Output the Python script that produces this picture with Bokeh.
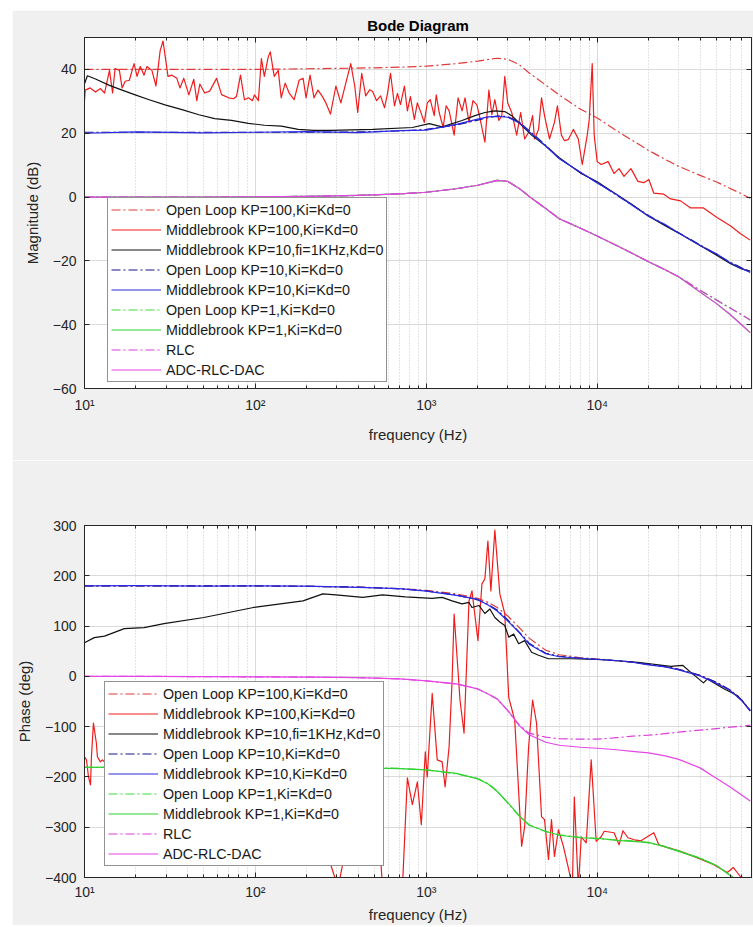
from bokeh.plotting import figure
from bokeh.layouts import column
from bokeh.models import (FixedTicker, Legend, LegendItem, Range1d, CustomJSTickFormatter,
                          LogAxis, LinearAxis)
from bokeh.embed import file_html
from bokeh.resources import INLINE

# ---------------- axis ticks ----------------
x_tick_values = [10, 100, 1000, 10000]
x_tick_labels = ["10\u00b9", "10\u00b2", "10\u00b3", "10\u2074"]
x_minor_ticks = [20, 30, 40, 50, 60, 70, 80, 90,
                 200, 300, 400, 500, 600, 700, 800, 900,
                 2000, 3000, 4000, 5000, 6000, 7000, 8000, 9000,
                 20000, 30000, 40000, 50000, 60000, 70000]
mag_ticks = [-60, -40, -20, 0, 20, 40]
phase_ticks = [-400, -300, -200, -100, 0, 100, 200, 300]

legend_labels = ["Open Loop KP=100,Ki=Kd=0", "Middlebrook KP=100,Ki=Kd=0",
                 "Middlebrook KP=10,fi=1KHz,Kd=0", "Open Loop KP=10,Ki=Kd=0",
                 "Middlebrook KP=10,Ki=Kd=0", "Open Loop KP=1,Ki=Kd=0",
                 "Middlebrook KP=1,Ki=Kd=0", "RLC", "ADC-RLC-DAC"]

# ---------------- common frequency grid (Hz) for smooth curves ----------------
f_grid = [10, 20, 50, 100, 200, 400, 700, 1000, 1500, 2000,
          2300, 2600, 3000, 3500, 4000, 5000, 6000, 8000, 10000, 13000,
          16000, 20000, 25000, 30000, 40000, 50000, 60000, 70000, 78600]

# ---------------- magnitude (dB) ----------------
ol100_mag = [40.0, 40.0, 40.0, 40.0, 40.2, 40.4, 40.7, 41.0, 41.8, 42.6,
             43.1, 43.5, 43.2, 41.5, 38.9, 35.1, 32.0, 27.5, 24.8, 20.8,
             17.8, 14.6, 11.8, 9.6, 6.8, 4.7, 2.7, 1.0, -0.4]
ol10_mag = [20.3, 20.3, 20.3, 20.3, 20.3, 20.4, 20.7, 21.2, 22.6, 24.1,
            24.9, 25.4, 25.2, 23.5, 20.8, 16.2, 12.2, 7.6, 4.6, 0.6,
            -2.5, -5.8, -8.8, -11.2, -15.0, -18.0, -20.4, -22.2, -23.4]
mb10_mag = [20.0, 20.4, 20.1, 20.3, 20.5, 20.2, 20.8, 21.0, 22.8, 24.4,
            25.1, 25.3, 25.0, 23.2, 20.5, 16.0, 12.0, 7.8, 4.4, 0.8,
            -2.6, -6.0, -8.6, -11.3, -15.2, -17.8, -20.6, -22.4, -23.6]
ol1_mag = [0.0, 0.0, 0.0, 0.1, 0.2, 0.5, 1.0, 1.5, 2.6, 3.7,
           4.5, 5.2, 4.9, 2.7, 0.2, -3.6, -6.8, -9.8, -12.2, -15.2,
           -17.6, -20.3, -22.8, -25.0, -29.2, -32.3, -34.8, -36.9, -38.5]
mb1_mag = [0.0, 0.0, 0.0, 0.1, 0.2, 0.5, 1.0, 1.5, 2.6, 3.7,
           4.5, 5.2, 4.9, 2.7, 0.2, -3.6, -6.8, -9.8, -12.2, -15.2,
           -17.6, -20.3, -22.8, -25.0, -29.8, -33.4, -36.8, -40.0, -42.5]
rlc_mag = [0.0, 0.0, 0.0, 0.1, 0.2, 0.5, 1.0, 1.5, 2.6, 3.7,
           4.5, 5.2, 4.9, 2.7, 0.2, -3.6, -6.8, -9.8, -12.2, -15.2,
           -17.6, -20.3, -22.8, -25.0, -29.2, -32.3, -34.8, -36.9, -38.5]
adc_mag = [0.0, 0.0, 0.0, 0.1, 0.2, 0.5, 1.0, 1.5, 2.6, 3.7,
           4.5, 5.2, 4.9, 2.7, 0.2, -3.6, -6.8, -9.8, -12.2, -15.2,
           -17.6, -20.3, -22.8, -25.0, -29.8, -33.4, -36.8, -40.0, -42.5]

mb10fi_mag_f = [10, 10.4, 11.6, 14.0, 16.6, 19.8, 23.9, 29.6, 37.2, 46.7,
                57.8, 72.5, 91.0, 113, 142, 178, 220, 277, 486, 829,
                1041, 1238, 1619, 1927, 2203, 2518, 2879, 3162, 3614, 4131,
                5000, 6000, 8000, 10000, 13000, 16000, 20000, 25000, 30000, 40000,
                50000, 60000, 70000, 78600]
mb10fi_mag = [35.5, 38.0, 37.0, 35.0, 33.5, 32.0, 30.5, 28.9, 27.4, 25.8,
              24.6, 24.0, 23.1, 22.5, 22.2, 21.2, 20.9, 20.9, 21.2, 21.8,
              23.0, 22.0, 24.0, 25.5, 26.5, 27.0, 26.8, 25.5, 22.5, 19.4,
              16.0, 12.3, 7.5, 4.8, 0.8, -2.3, -6.0, -9.0, -11.3, -15.2,
              -18.2, -20.8, -22.5, -23.2]

mb100_mag_f = [10, 10.1, 10.8, 11.6, 12.4, 13.1, 14.0, 14.6, 15.1, 16.0,
               16.6, 17.3, 18.3, 19.5, 20.3, 21.2, 22.3, 23.2, 24.8, 26.2,
               27.7, 28.8, 29.6, 30.8, 32.5, 34.7, 36.2, 38.1, 40.8, 43.6,
               45.4, 47.3, 50.5, 54.0, 59.3, 63.4, 69.7, 74.5, 77.5, 81.8,
               86.3, 91.1, 96.1, 98.7, 104.1, 108.4, 112.8, 119.0, 122.2, 128.9,
               136.1, 141.6, 149.4, 157.6, 168.6, 180.3, 190.2, 198.0, 208.9, 220.3,
               232.4, 245.2, 258.7, 275.0, 295.8, 316.2, 338.1, 361.5, 381.4, 397.0,
               419.0, 442.0, 466.3, 485.3, 512.0, 540.2, 569.9, 593.3, 617.6, 651.6,
               678.3, 706.0, 744.8, 775.3, 807.2, 851.7, 886.6, 922.9, 973.6, 1013.5,
               1055.1, 1113.1, 1143.2, 1190.1, 1255.5, 1307.1, 1360.5, 1455.2, 1535.1, 1619.6,
               1685.8, 1778.3, 1876.1, 1979.0, 2060.4, 2203.4, 2324.5, 2419.5, 2518.6, 2657.0,
               2766.1, 2879.4, 2997.2, 3162.3, 3381.3, 3566.8, 3763.2, 3969.8, 4189.0, 4302.6,
               4539.4, 4725.2, 4918.9, 5259.3, 5623.4, 5853.7, 6175.9, 6428.6, 6782.6, 7253.0,
               7755.7, 8181.4, 8748.3, 8985.0, 9353.3, 9606.9, 10000, 10551, 11588, 12560,
               13428, 14356, 15766, 17315, 18761, 20060, 21450, 24521, 26930, 30787,
               35200, 41892, 50514, 60138, 68752, 78600]
mb100_mag = [30.2, 33.5, 34.2, 32.9, 34.0, 32.6, 39.7, 32.6, 40.3, 39.7,
             34.2, 36.3, 36.6, 41.8, 37.8, 40.9, 38.2, 40.9, 39.7, 34.8,
             45.8, 48.9, 44.5, 37.8, 38.2, 37.2, 34.2, 37.2, 32.0, 36.9,
             30.2, 35.4, 32.6, 33.2, 37.2, 32.1, 31.1, 30.8, 31.5, 38.2,
             30.5, 31.1, 30.2, 32.0, 30.2, 43.4, 37.8, 44.0, 45.5, 37.8,
             39.7, 31.1, 35.7, 32.6, 30.5, 36.6, 37.2, 31.1, 38.2, 31.1,
             33.5, 31.7, 29.5, 26.0, 34.8, 29.5, 35.7, 41.8, 34.8, 26.5,
             38.8, 31.7, 33.6, 33.1, 30.2, 31.7, 28.0, 32.5, 38.8, 28.6,
             32.5, 29.0, 34.8, 27.0, 31.5, 24.3, 29.5, 27.0, 23.4, 29.5,
             30.5, 25.5, 32.0, 26.5, 21.8, 28.6, 27.0, 19.4, 31.1, 27.0,
             31.1, 23.4, 30.2, 28.9, 24.7, 17.2, 33.5, 25.8, 30.5, 24.0,
             25.5, 37.8, 29.5, 26.5, 19.4, 26.5, 18.2, 20.3, 25.5, 18.2,
             21.2, 31.1, 25.5, 18.2, 23.4, 28.6, 19.4, 17.7, 18.0, 21.2,
             18.2, 10.2, 19.4, 24.3, 41.8, 19.4, 11.1, 10.2, 11.1, 7.4,
             8.9, 6.5, 8.9, 4.9, 4.5, 5.5, 1.2, 0.9, -0.6, -1.2,
             -3.4, -3.4, -6.5, -9.0, -11.4, -13.5]

# ---------------- phase (deg) ----------------
ol100_ph = [180, 180, 180, 180, 179, 177.5, 174.5, 171, 164, 155,
            147, 137, 120, 97, 76, 52, 43, 37, 34.5, 31,
            28.5, 24, 19.5, 14, 2, -12, -28, -47, -68]
ol10_ph = [180, 180, 180, 180, 179, 177.5, 174, 170, 162, 152,
           143, 132, 112, 88, 66, 46, 40, 36, 34, 31,
           28.5, 24, 19.5, 14, 2, -12, -27, -47, -68]
mb10_ph = [180, 180.5, 179.5, 180, 179.5, 177, 174.5, 169.5, 161, 153,
           142, 130, 110, 87, 64, 45, 39, 36, 33.5, 31.5,
           28, 23, 19, 13, 1, -14, -28, -48, -69]
ol1_ph = [-181, -181, -181, -181, -181, -181.5, -183, -186, -194, -203,
          -213, -228, -252, -278, -295, -309, -315, -320, -323, -325,
          -327, -331, -338, -347, -361, -377, -395, -412, -425]
mb1_ph = [-181, -180.5, -181.5, -181, -180.5, -182, -183.5, -186, -193, -204,
          -214, -229, -251, -277, -296, -308, -316, -321, -322, -326,
          -328, -330, -339, -348, -362, -376, -396, -413, -424]
rlc_ph = [0, 0, -0.5, -1, -1.5, -2.5, -5, -9, -15, -25,
          -35, -45, -68, -97, -113, -121, -124, -125, -125, -122,
          -119, -117, -114, -111, -107, -104, -101, -99, -97]
adc_ph = [0, 0, -0.5, -1, -1.5, -2.5, -5, -9, -15, -25,
          -35, -45, -68, -98, -116, -131, -137, -141, -143, -146,
          -149, -152, -158, -165, -182, -203, -220, -236, -248]

mb10fi_ph_f = [10, 11.4, 13.1, 17.1, 22.3, 29.2, 49.9, 97.4, 190, 248,
               296, 425, 555, 755, 1083, 1238, 1416, 1620, 1778, 1851,
               2033, 2203, 2356, 2519, 2693, 2879, 3038, 3249, 3473, 3763,
               4131, 4539, 5190, 7060, 10982, 17315, 26930, 31623, 35200, 41892,
               44180, 54750, 66050, 72000, 78600]
mb10fi_ph = [67, 77, 80, 95, 97, 105, 117, 137, 150, 164,
             162, 157, 162, 158, 155, 157, 150, 144, 147, 137,
             141, 125, 134, 117, 108, 101, 78, 84, 65, 71,
             48, 42, 35, 35, 33, 28, 20, 22, 8.5, -13,
             -5, -24, -38, -52, -68]

mb100_ph_f = [10, 10.27, 10.55, 10.84, 10.98, 11.28, 11.74, 11.9, 12.39, 12.73,
              13.25, 15, 20, 30, 50, 80, 120, 180, 250, 305,
              330, 400, 480, 540, 560, 650, 725, 775, 829, 887,
              935, 987, 1013, 1083, 1159, 1238, 1289, 1360, 1416, 1455,
              1576, 1663, 1778, 1851, 2006, 2117, 2203, 2294, 2388, 2519,
              2693, 2879, 3038, 3293, 3614, 3763, 3970, 4189, 4419, 4725,
              4919, 5190, 5402, 5623, 5933, 6344, 6875, 7157, 7350, 7756,
              8072, 8630, 9228, 9867, 10551, 11000, 12560, 13428, 14160, 15140,
              16500, 18030, 21450, 22940, 25000, 30787, 38000, 47860, 57750, 62600,
              68752, 78600]
mb100_ph = [-160, -166, -200, -216, -160, -93, -133, -160, -170, -166,
            -172, -175, -178, -176, -182, -195, -215, -250, -330, -420,
            -360, -330, -360, -360, -440, -440, -420, -202, -255, -210,
            -295, -150, -200, -34, -166, -170, -220, -140, -8, 124,
            -48, -113, 150, 170, 71, 184, 194, 269, 170, 291,
            164, 125, -42, -87, -338, -299, -140, -47, -93, -279,
            -285, -364, -285, -358, -305, -338, -390, -420, -240, -420,
            -319, -331, -166, -328, -319, -308, -311, -335, -307, -321,
            -325, -327, -311, -335, -339, -348, -360, -374, -390, -380,
            -398, -405]

# ---------------- styles ----------------
FONT = "Liberation Sans"
AX = "#262626"
DASHDOT = "9 3 2 3"
series_colors = ["#e23a3a", "#f01c1c", "#111111", "#14148c", "#2a2ae6",
                 "#3ddc3d", "#2fd02f", "#dc3cdc", "#e645e6"]
series_dashes = [DASHDOT, "solid", "solid", DASHDOT, "solid",
                 DASHDOT, "solid", DASHDOT, "solid"]

mag_series = [(f_grid, ol100_mag), (mb100_mag_f, mb100_mag), (mb10fi_mag_f, mb10fi_mag),
              (f_grid, ol10_mag), (f_grid, mb10_mag), (f_grid, ol1_mag), (f_grid, mb1_mag),
              (f_grid, rlc_mag), (f_grid, adc_mag)]
ph_series = [(f_grid, ol100_ph), (mb100_ph_f, mb100_ph), (mb10fi_ph_f, mb10fi_ph),
             (f_grid, ol10_ph), (f_grid, mb10_ph), (f_grid, ol1_ph), (f_grid, mb1_ph),
             (f_grid, rlc_ph), (f_grid, adc_ph)]
for xs, ys in mag_series + ph_series:
    assert len(xs) == len(ys)

EMPTY = "return '';"


def tick_only_axis(ax):
    ax.axis_line_color = AX
    ax.major_tick_line_color = AX
    ax.minor_tick_line_color = AX
    ax.major_tick_in = 5
    ax.major_tick_out = 0
    ax.minor_tick_in = 3
    ax.minor_tick_out = 0
    ax.major_label_standoff = 0
    ax.major_label_text_font_size = "1px"
    ax.formatter = CustomJSTickFormatter(code=EMPTY)


def make_fig(height, btop, bbottom, yr, yticks, ylabel, series, legend_xy,
             tick_standoff, label_standoff, title=None):
    kw = dict(width=741, height=height, x_axis_type="log",
              x_range=Range1d(10, 80000), y_range=Range1d(*yr),
              output_backend="svg", toolbar_location=None,
              min_border_left=68, min_border_right=2,
              min_border_top=btop, min_border_bottom=bbottom,
              background_fill_color="white", border_fill_color="#f0f0f0",
              outline_line_color=AX, outline_line_width=1)
    if title:
        kw["title"] = title
    p = figure(**kw)
    if title:
        p.title.align = "center"
        p.title.text_font = FONT
        p.title.text_font_size = "15px"
        p.title.text_font_style = "bold"
        p.title.text_color = "#000000"
        p.title.standoff = 8

    xt = FixedTicker(ticks=x_tick_values, minor_ticks=x_minor_ticks)
    yt = FixedTicker(ticks=yticks)
    p.xaxis.ticker = xt
    p.xgrid.ticker = xt
    p.yaxis.ticker = yt
    p.ygrid.ticker = yt
    p.xaxis.formatter = CustomJSTickFormatter(
        args=dict(vals=x_tick_values, labs=x_tick_labels),
        code="const i = vals.indexOf(tick); return i >= 0 ? labs[i] : '';")
    p.xaxis.axis_label = "frequency (Hz)"
    p.yaxis.axis_label = ylabel

    for ax in (p.xaxis[0], p.yaxis[0]):
        ax.axis_line_color = AX
        ax.major_tick_line_color = AX
        ax.major_tick_in = 5
        ax.major_tick_out = 0
        ax.minor_tick_in = 3
        ax.minor_tick_out = 0
        ax.major_label_text_font = FONT
        ax.major_label_text_font_size = "14px"
        ax.major_label_text_color = AX
        ax.axis_label_text_font = FONT
        ax.axis_label_text_font_size = "15px"
        ax.axis_label_text_font_style = "normal"
        ax.axis_label_text_color = AX
    p.yaxis.minor_tick_line_color = None
    p.xaxis.minor_tick_line_color = AX
    p.yaxis.major_label_standoff = 8
    p.yaxis.axis_label_standoff = 9
    p.xaxis.major_label_standoff = tick_standoff
    p.xaxis.axis_label_standoff = label_standoff

    # tick marks on the top and right edges of the box
    top_ax = LogAxis(ticker=xt)
    tick_only_axis(top_ax)
    p.add_layout(top_ax, "above")
    right_ax = LinearAxis(ticker=yt)
    tick_only_axis(right_ax)
    right_ax.minor_tick_line_color = None
    p.add_layout(right_ax, "right")

    p.xgrid.grid_line_color = "#dadada"
    p.xgrid.minor_grid_line_color = "#c8c8c8"
    p.xgrid.minor_grid_line_dash = "1 2"
    p.ygrid.grid_line_color = "#dadada"

    items = []
    for (xs, ys), col, dash, lab in zip(series, series_colors, series_dashes, legend_labels):
        r = p.line(xs, ys, line_color=col, line_width=1.2, line_dash=dash,
                   line_join="round")
        items.append(LegendItem(label=lab, renderers=[r]))

    leg = Legend(items=items, location=legend_xy)
    leg.label_text_font = FONT
    leg.label_text_font_size = "14.3px"
    leg.label_text_color = "#1a1a1a"
    leg.glyph_width = 50
    leg.glyph_height = 17
    leg.label_height = 17
    leg.label_standoff = 5
    leg.spacing = 3
    leg.padding = 3
    leg.margin = 0
    leg.border_line_color = AX
    leg.border_line_width = 1
    leg.background_fill_color = "white"
    leg.background_fill_alpha = 1.0
    p.add_layout(leg)
    return p


p1 = make_fig(450, 26, 72, (-60, 50), mag_ticks, "Magnitude (dB)", mag_series,
              (23, 6), 8, 10, title="Bode Diagram")
p2 = make_fig(465, 65, 45, (-400, 300), phase_ticks, "Phase (deg)", ph_series,
              (20, 11), 6, 3)

layout = column(p1, p2, margin=(10, 0, 0, 12))

open("out.html", "w").write(file_html(layout, INLINE))
